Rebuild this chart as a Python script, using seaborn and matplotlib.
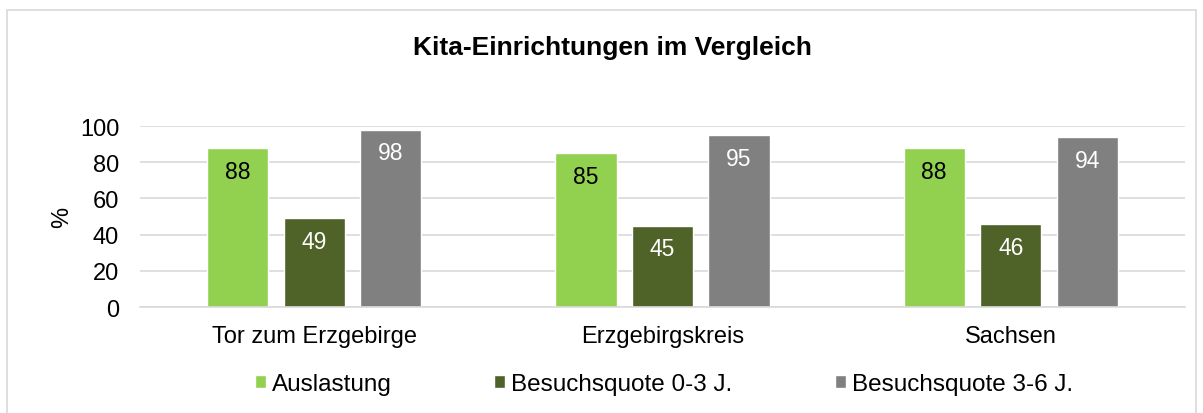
import pandas as pd
import matplotlib
matplotlib.use('Agg')
from matplotlib import pyplot as plt
from matplotlib.patches import Rectangle
import seaborn as sns

regions = ['Tor zum Erzgebirge', 'Erzgebirgskreis', 'Sachsen']
series = ['Auslastung', 'Besuchsquote 0-3 J.', 'Besuchsquote 3-6 J.']
auslastung = [88, 85, 88]
quote_0_3 = [49, 45, 46]
quote_3_6 = [98, 95, 94]
colors = ['#92d050', '#4f6228', '#808080']
label_colors = ['black', 'white', 'white']

df = pd.DataFrame({
    'Region': regions * 3,
    'Serie': [s for s in series for _ in regions],
    'Wert': auslastung + quote_0_3 + quote_3_6,
})

sns.set_style('white')
plt.rcParams['font.family'] = ['Liberation Sans', 'DejaVu Sans']
plt.rcParams['text.color'] = 'black'
plt.rcParams['axes.labelcolor'] = 'black'

fig = plt.figure(figsize=(12.03, 4.14), dpi=100)
ax = fig.add_axes([0.1164, 0.256, 0.8686, 0.437])

sns.barplot(
    data=df, x='Region', y='Wert', hue='Serie', hue_order=series,
    palette=colors, width=0.66, gap=0.2, saturation=1, ax=ax, legend=True,
)

for container, lc in zip(ax.containers, label_colors):
    ax.bar_label(container, fmt='%d', label_type='edge', padding=-25,
                 color=lc, fontsize=16.5)

ax.set_ylim(0, 100)
ax.set_xlim(-0.5, 2.5)
ax.set_yticks([0, 20, 40, 60, 80, 100])
ax.yaxis.grid(True, color='#d9d9d9', linewidth=1.2)
ax.set_axisbelow(True)
for s in ['top', 'right', 'left']:
    ax.spines[s].set_visible(False)
ax.spines['bottom'].set_color('#d9d9d9')
ax.spines['bottom'].set_linewidth(1.2)
ax.tick_params(axis='both', length=0, labelsize=17, colors='black')
ax.tick_params(axis='x', pad=13)
ax.tick_params(axis='y', pad=15)
ax.set_xlabel('')
ax.set_ylabel('%', fontsize=17, labelpad=5, color='black')

handles, labels = ax.get_legend_handles_labels()
leg = ax.legend(handles, labels, loc='center', bbox_to_anchor=(0.552, 1 - 385 / 414),
                bbox_transform=fig.transFigure, ncol=3, frameon=False,
                fontsize=17.5, handlelength=0.45, handleheight=0.45, handletextpad=0.25,
                columnspacing=4.2, labelcolor='black')

fig.text(612 / 1203, 1 - 48 / 414, 'Kita-Einrichtungen im Vergleich',
         ha='center', va='center', fontsize=19, fontweight='bold', color='black')

fig.patches.append(Rectangle((7 / 1203, -0.05), 1189 / 1203, 1.05 - 11 / 414,
                             transform=fig.transFigure, fill=False,
                             edgecolor='#d9d9d9', linewidth=1.2))

fig.savefig('out.png', dpi=100)
